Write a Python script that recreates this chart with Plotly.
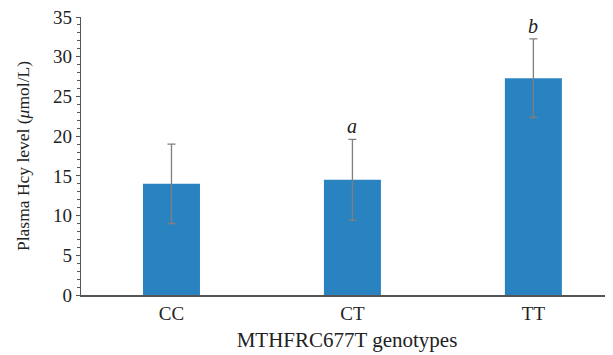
import plotly.graph_objects as go

categories = ["CC", "CT", "TT"]
means = [14.0, 14.5, 27.3]
errors = [5.0, 5.1, 4.95]
letters = ["", "a", "b"]
y_ticks = [0, 5, 10, 15, 20, 25, 30, 35]

font_family = "Liberation Serif, Times New Roman, serif"

fig = go.Figure()
fig.add_trace(go.Bar(
    x=categories, y=means, width=0.315,
    marker=dict(color="#2A83C1", line=dict(width=0)),
    error_y=dict(type="data", array=errors, visible=True,
                 color="#7F7F7F", thickness=1.3, width=4),
))

for c, m, e, l in zip(categories, means, errors, letters):
    if l:
        fig.add_annotation(x=c, y=m + e, text=f"<i>{l}</i>", showarrow=False,
                           yanchor="bottom", yshift=0,
                           font=dict(family=font_family, size=20, color="#222222"))

# page body has an 8px margin, so the figure is offset by 8px
fig.update_layout(
    width=605, height=347,
    margin=dict(l=73, r=0, t=9, b=60, autoexpand=False),
    paper_bgcolor="white", plot_bgcolor="white",
    showlegend=False,
    font=dict(family=font_family, size=19, color="#222222"),
    xaxis=dict(
        range=[-0.5, 2.44], showline=True, linecolor="#555555", linewidth=1.5,
        ticks="", showgrid=False, zeroline=False, automargin=False,
        tickfont=dict(size=19),
        title=dict(text="MTHFRC677T genotypes", font=dict(size=21), standoff=10),
    ),
    yaxis=dict(
        range=[0, 35], tickvals=y_ticks, showline=True, linecolor="#555555", linewidth=1.2,
        ticks="outside", ticklen=4, tickcolor="#555555", tickwidth=1,
        minor=dict(ticks="outside", ticklen=3, tickcolor="#555555", dtick=1, showgrid=False),
        showgrid=False, zeroline=False, automargin=False,
        ticklabeloverflow="allow",
        tickfont=dict(size=19),
        title=dict(text="Plasma Hcy level (<i>μ</i>mol/L)", font=dict(size=17.5), standoff=18),
    ),
)

fig.write_html("out.html")
